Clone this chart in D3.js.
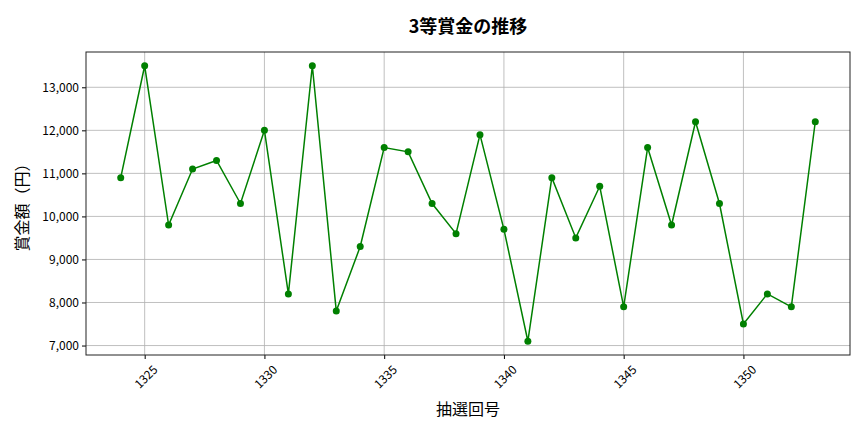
<!DOCTYPE html>
<html>
<head>
<meta charset="utf-8">
<script src="https://cdn.jsdelivr.net/npm/d3@7"></script>
<style>
  body { margin: 0; background: #fff; }
  svg, svg text { font-family: "Noto Sans CJK JP", "Noto Sans", sans-serif; }
</style>
</head>
<body>
<svg id="chart" width="864" height="432"></svg>
<script>
// 抽選回号と3等賞金
const draws = [1324, 1325, 1326, 1327, 1328, 1329, 1330, 1331, 1332, 1333,
               1334, 1335, 1336, 1337, 1338, 1339, 1340, 1341, 1342, 1343,
               1344, 1345, 1346, 1347, 1348, 1349, 1350, 1351, 1352, 1353];
const prizes = [10900, 13500, 9800, 11100, 11300, 10300, 12000, 8200, 13500, 7800,
                9300, 11600, 11500, 10300, 9600, 11900, 9700, 7100, 10900, 9500,
                10700, 7900, 11600, 9800, 12200, 10300, 7500, 8200, 7900, 12200];
const xTicks = [1325, 1330, 1335, 1340, 1345, 1350];
const yTicks = [7000, 8000, 9000, 10000, 11000, 12000, 13000];

const margin = { top: 52, right: 14, bottom: 77, left: 86 };
const width = 864 - margin.left - margin.right;
const height = 432 - margin.top - margin.bottom;
const font = '"Noto Sans CJK JP", "Noto Sans", sans-serif';

const svg = d3.select("#chart");
const g = svg.append("g").attr("transform", `translate(${margin.left},${margin.top})`);

// matplotlib風の5%余白
const xMin = d3.min(draws), xMax = d3.max(draws);
const xPad = (xMax - xMin) * 0.05;
const yMin = d3.min(prizes), yMax = d3.max(prizes);
const yPad = (yMax - yMin) * 0.05;

const x = d3.scaleLinear().domain([xMin - xPad, xMax + xPad]).range([0, width]);
const y = d3.scaleLinear().domain([yMin - yPad, yMax + yPad]).range([height, 0]);

// グリッド
g.append("g")
    .selectAll("line")
    .data(xTicks)
    .join("line")
    .attr("x1", d => x(d)).attr("x2", d => x(d))
    .attr("y1", 0).attr("y2", height)
    .attr("stroke", "#b0b0b0").attr("stroke-width", 0.8);
g.append("g")
    .selectAll("line")
    .data(yTicks)
    .join("line")
    .attr("x1", 0).attr("x2", width)
    .attr("y1", d => y(d)).attr("y2", d => y(d))
    .attr("stroke", "#b0b0b0").attr("stroke-width", 0.8);

// 軸
const xAxis = g.append("g")
    .attr("transform", `translate(0,${height})`)
    .call(d3.axisBottom(x).tickValues(xTicks).tickSize(4).tickPadding(3).tickFormat(d3.format("d")));
xAxis.attr("font-family", font);
xAxis.select(".domain").remove();
xAxis.selectAll("text")
    .attr("font-size", 12)
    .attr("fill", "#000")
    .attr("text-anchor", "middle")
    .attr("dominant-baseline", "central")
    .attr("y", 0).attr("dy", null)
    .attr("transform", "translate(0,21) rotate(-45)");

const yAxis = g.append("g")
    .call(d3.axisLeft(y).tickValues(yTicks).tickSize(4).tickPadding(3).tickFormat(d3.format(",")));
yAxis.attr("font-family", font);
yAxis.select(".domain").remove();
yAxis.selectAll("text").attr("font-size", 12).attr("fill", "#000");

// 枠
g.append("rect")
    .attr("width", width).attr("height", height)
    .attr("fill", "none").attr("stroke", "#222").attr("stroke-width", 1);

// 折れ線
const line = d3.line()
    .x((d, i) => x(draws[i]))
    .y(d => y(d));

g.append("path")
    .datum(prizes)
    .attr("d", line)
    .attr("fill", "none")
    .attr("stroke", "green")
    .attr("stroke-width", 1.5);

g.append("g")
    .selectAll("circle")
    .data(prizes)
    .join("circle")
    .attr("cx", (d, i) => x(draws[i]))
    .attr("cy", d => y(d))
    .attr("r", 3.5)
    .attr("fill", "green");

// タイトル・ラベル
svg.append("text")
    .attr("x", margin.left + width / 2).attr("y", 25)
    .attr("text-anchor", "middle").attr("dominant-baseline", "central")
    .attr("font-size", 18).attr("font-weight", "bold")
    .text("3等賞金の推移");

svg.append("text")
    .attr("x", margin.left + width / 2).attr("y", 408)
    .attr("text-anchor", "middle").attr("dominant-baseline", "central")
    .attr("font-size", 16)
    .text("抽選回号");

svg.append("text")
    .attr("transform", `translate(21,${margin.top + height / 2}) rotate(-90)`)
    .attr("text-anchor", "middle").attr("dominant-baseline", "central")
    .attr("font-size", 16)
    .text("賞金額（円）");
</script>
</body>
</html>
